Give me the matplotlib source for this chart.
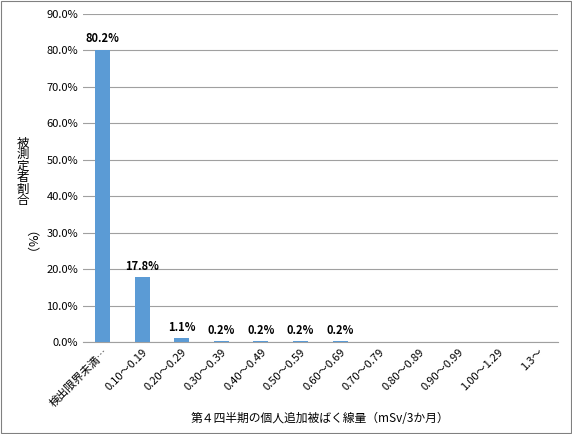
import matplotlib.pyplot as plt
from matplotlib.patches import Rectangle

plt.rcParams['font.family'] = ['Noto Sans CJK JP', 'DejaVu Sans']

categories = ['検出限界未満…', '0.10～0.19', '0.20～0.29', '0.30～0.39', '0.40～0.49',
              '0.50～0.59', '0.60～0.69', '0.70～0.79', '0.80～0.89', '0.90～0.99',
              '1.00～1.29', '1.3～']
values = [80.2, 17.8, 1.1, 0.2, 0.2, 0.2, 0.2, 0, 0, 0, 0, 0]
labels = ['80.2%', '17.8%', '1.1%', '0.2%', '0.2%', '0.2%', '0.2%', '', '', '', '', '']

fig = plt.figure(figsize=(5.72, 4.34), dpi=100)
ax = fig.add_axes([0.145, 0.212, 0.83, 0.756])
x = range(len(categories))
ax.bar(x, values, width=0.38, color='#5B9BD5', zorder=3)
for i, (v, t) in enumerate(zip(values, labels)):
    if t:
        ax.text(i, v + 1.2, t, ha='center', va='bottom', fontsize=8, fontweight='bold')

ax.set_xlim(-0.5, len(categories) - 0.5)
ax.set_ylim(0, 90)
ax.set_yticks(range(0, 91, 10))
ax.set_yticklabels([f'{v:.1f}%' for v in range(0, 91, 10)], fontsize=8)
ax.set_xticks(list(x))
ax.set_xticklabels(categories, rotation=45, ha='right', rotation_mode='anchor', fontsize=8)
ax.tick_params(length=0)
ax.grid(axis='y', color='#a0a0a0', linewidth=0.8, zorder=0)
for s in ['top', 'right', 'left']:
    ax.spines[s].set_visible(False)
ax.spines['bottom'].set_color('#a0a0a0')

ax.set_xlabel('第４四半期の個人追加被ばく線量（mSv/3か月）', fontsize=8.5, labelpad=2)
fig.text(0.04, 0.685, '\n'.join('被測定者割合'), ha='center', va='top', fontsize=9, linespacing=0.85)
fig.text(0.04, 0.425, '（%）', ha='center', va='center', fontsize=9, rotation=270)

fig.patches.append(Rectangle((0.002, 0.002), 0.996, 0.996, transform=fig.transFigure,
                             fill=False, edgecolor='#808080', linewidth=0.8))
fig.savefig('out.png', dpi=100)
